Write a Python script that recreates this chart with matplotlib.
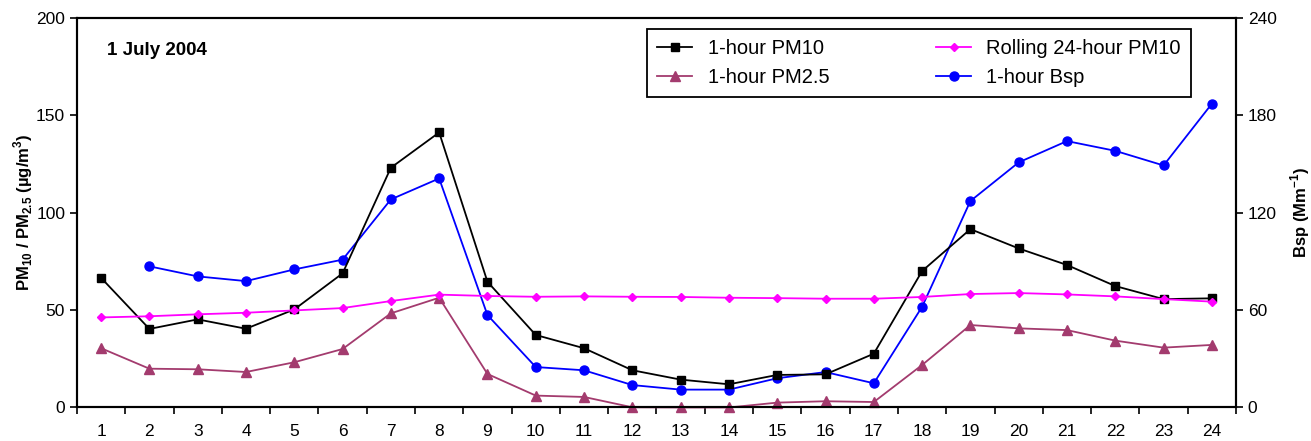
import matplotlib
matplotlib.use("Agg")
import matplotlib.pyplot as plt
import numpy as np

plt.rcParams['font.family'] = ['Liberation Sans', 'DejaVu Sans']
plt.rcParams['mathtext.fontset'] = 'custom'
plt.rcParams['mathtext.rm'] = 'Liberation Sans'
plt.rcParams['mathtext.bf'] = 'Liberation Sans:bold'

hours = list(range(1, 25))
pm10 = [66.5, 40.3, 45.2, 40.4, 50.3, 68.8, 123.0, 141.1, 64.5, 37.2, 30.4, 19.1,
        14.3, 11.9, 16.7, 17.0, 27.6, 70.0, 91.5, 81.6, 73.1, 62.3, 55.6, 56.0]
pm25 = [30.4, 19.9, 19.6, 18.2, 23.2, 30.0, 48.3, 56.3, 17.2, 6.1, 5.4, 0.1,
        0.0, 0.0, 2.5, 3.2, 2.8, 21.8, 42.3, 40.6, 39.7, 34.3, 30.7, 32.1]
rolling24 = [46.2, 46.8, 47.8, 48.6, 49.8, 51.0, 54.6, 57.9, 57.2, 56.8, 57.0, 56.8,
             56.7, 56.3, 56.1, 55.8, 55.8, 56.7, 58.2, 58.7, 58.0, 57.0, 55.6, 54.3]
bsp = [np.nan, 86.9, 80.7, 77.8, 85.0, 91.0, 128.1, 141.0, 56.9, 24.9, 22.9, 13.8,
       11.0, 11.0, 18.0, 21.8, 14.9, 62.0, 127.1, 150.9, 164.0, 158.0, 149.0, 187.0]

fig = plt.figure(figsize=(13.11, 4.41), dpi=100)
ax = fig.add_axes([0.0587, 0.076, 0.8841, 0.884])
ax2 = ax.twinx()
ax2.set_zorder(0)
ax.set_zorder(1)
ax2.set_facecolor('#FFFFCC')
ax.patch.set_visible(False)

l1, = ax.plot(hours, pm10, color='black', marker='s', markersize=6, lw=1.3,
              label='1-hour PM10', clip_on=False)
l2, = ax.plot(hours, pm25, color='#A33B6E', marker='^', markersize=6.5, lw=1.3,
              label='1-hour PM2.5', clip_on=False)
l3, = ax.plot(hours, rolling24, color='#FF00FF', marker='D', markersize=4.5, lw=1.3,
              label='Rolling 24-hour PM10', clip_on=False)
l4, = ax2.plot(hours, bsp, color='#0000FF', marker='o', markersize=6.5, lw=1.3,
               label='1-hour Bsp', clip_on=False)

ax.set_xlim(0.5, 24.5)
ax.set_ylim(0, 200)
ax2.set_ylim(0, 240)
ax.set_yticks([0, 50, 100, 150, 200])
ax2.set_yticks([0, 60, 120, 180, 240])
ax.set_xticks(hours)
ax.set_xticks(np.arange(0.5, 25, 1), minor=True)
ax.tick_params(axis='x', which='major', length=0, labelsize=12.5, pad=12)
ax.tick_params(axis='x', which='minor', length=5, width=1.2, direction='out')
ax.tick_params(axis='y', length=5, width=1.2, direction='out', labelsize=12.5)
ax2.tick_params(axis='y', length=5, width=1.2, direction='out', labelsize=12.5)

for a in (ax, ax2):
    for s in a.spines.values():
        s.set_linewidth(1.5)
        s.set_color('black')

ax.set_ylabel(r'PM$_{\mathbf{10}}$ / PM$_{\mathbf{2.5}}$ (µg/m$^{\mathbf{3}}$)',
              fontsize=12, fontweight='bold', labelpad=1)
ax2.set_ylabel(r'Bsp (Mm$^{\mathbf{-1}}$)', fontsize=12, fontweight='bold', labelpad=8)

ax.text(0.026, 0.915, '1 July 2004', transform=ax.transAxes, fontsize=13.5,
        fontweight='bold', va='center', ha='left')

leg = ax.legend(handles=[l1, l2, l3, l4], ncol=2, loc='upper right',
                bbox_to_anchor=(0.961, 0.9705), borderaxespad=0, fancybox=False,
                framealpha=1, edgecolor='black', fontsize=14.5, handlelength=1.75,
                handletextpad=0.75, columnspacing=5.3, labelspacing=0.5, borderpad=0.5)
leg.get_frame().set_linewidth(1.3)

fig.savefig('out.png', dpi=100)
